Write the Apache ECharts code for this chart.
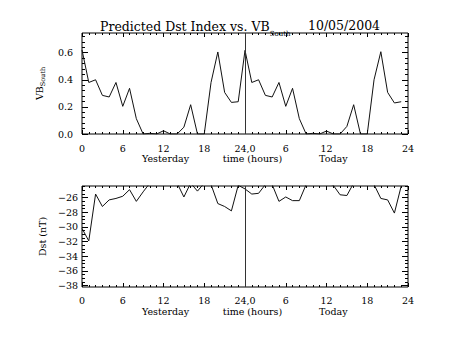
<!DOCTYPE html>
<html>
<head>
<meta charset="utf-8">
<script src="https://cdn.jsdelivr.net/npm/echarts@6/dist/echarts.min.js"></script>
<style>html,body{margin:0;padding:0;background:#fff}#c{width:453px;height:340px}</style>
</head>
<body>
<div id="c"></div>
<script>
// hours since start of "Yesterday"
var hours = [0,1,2,3,4,5,6,7,8,9,10,11,12,13,14,15,16,17,18,19,20,21,22,23,
             24,25,26,27,28,29,30,31,32,33,34,35,36,37,38,39,40,41,42,43,44,45,46,47];
var vbSouth = [0.62,0.38,0.40,0.285,0.273,0.38,0.204,0.337,0.113,0.0,0.005,0.0,0.024,0.0,0.0,0.05,0.216,0.0,0.0,0.38,0.605,0.307,0.233,0.238,
               0.617,0.38,0.40,0.285,0.273,0.38,0.204,0.337,0.113,0.0,0.005,0.0,0.022,0.0,0.0,0.056,0.216,0.0,0.0,0.40,0.607,0.307,0.229,0.238];
var dst = [-30.2,-31.9,-25.5,-27.2,-26.3,-26.1,-25.8,-24.9,-26.5,-25.2,-24.0,-24.0,-24.0,-24.0,-24.0,-25.9,-24.0,-25.1,-24.0,-24.2,-26.8,-27.2,-27.8,-24.3,
           -24.8,-25.5,-25.4,-24.2,-24.2,-26.5,-25.9,-26.4,-26.4,-24.2,-24.0,-24.0,-24.0,-24.3,-25.6,-25.7,-24.0,-24.0,-24.0,-24.2,-26.1,-26.3,-28.1,-24.4];
var xTickLabels = ['0','6','12','18','24,0','6','12','18','24'];
var xTitles = ['Yesterday','time (hours)','Today'];
var vbTicks = [0.0,0.2,0.4,0.6];
var dstTicks = [-38,-36,-34,-32,-30,-28,-26];
var dividerHour = 24;

var FONT = 'DejaVu Serif';
var vbRange = [0, 0.745];
var dstRange = [-38.2, -24.4];

function minorList(lo, hi, step, majors) {
  var out = [];
  var n = Math.round((hi - lo) / step);
  for (var i = 0; i <= n; i++) {
    var v = +(lo + i * step).toFixed(4);
    var isMajor = majors.some(function (m) { return Math.abs(m - v) < 1e-6; });
    if (!isMajor) out.push(v);
  }
  return out;
}
var vbMinor = minorList(0, 0.72, 0.04, vbTicks);
var dstMinor = minorList(-38, -24.5, 0.5, dstTicks);

function pairs(ys) { return hours.map(function (h, i) { return [h, ys[i]]; }); }

function xAxisCfg(grid, pos, labels) {
  return {
    type: 'value', gridIndex: grid, position: pos, min: 0, max: 48, interval: 6,
    axisLine: { show: false, onZero: false },
    axisTick: { show: true, inside: true, length: 4, lineStyle: { color: '#000' } },
    minorTick: { show: true, splitNumber: 6, length: 2, lineStyle: { color: '#000' } },
    splitLine: { show: false }, minorSplitLine: { show: false },
    axisLabel: labels ? {
      show: true, margin: grid === 0 ? 9 : 8, color: '#000', fontFamily: FONT, fontSize: 9.5,
      formatter: function (v) { return xTickLabels[Math.round(v / 6)]; }
    } : { show: false }
  };
}
function xTitleAxis(grid) {
  return {
    type: 'value', gridIndex: grid, position: 'bottom', min: 0, max: 48,
    axisLine: { show: false, onZero: false }, axisTick: { show: false },
    splitLine: { show: false },
    axisLabel: {
      show: true, margin: 19, color: '#000', fontFamily: FONT, fontSize: 9.5,
      customValues: [12.3, 25.1, 37],
      formatter: function (v) { return v < 18 ? xTitles[0] : (v < 30 ? xTitles[1] : xTitles[2]); }
    }
  };
}
function yAxisCfg(grid, pos, range, ticks, len, labelCfg, nameCfg) {
  var a = {
    type: 'value', gridIndex: grid, position: pos, min: range[0], max: range[1],
    axisLine: { show: false, onZero: false },
    axisTick: { show: true, inside: true, length: len, customValues: ticks, lineStyle: { color: '#000' } },
    splitLine: { show: false },
    axisLabel: labelCfg || { show: false }
  };
  if (nameCfg) { for (var k in nameCfg) a[k] = nameCfg[k]; }
  return a;
}

var chart = echarts.init(document.getElementById('c'), null, { renderer: 'svg' });
chart.setOption({
  animation: false,
  backgroundColor: '#fff',
  title: [{
    text: '{a|Predicted Dst Index vs. VB}{s|South}',
    left: 100, top: 15, padding: 0,
    textStyle: { fontWeight: 'normal', rich: {
      a: { fontFamily: FONT, fontSize: 12.5, fontWeight: 'normal', lineHeight: 22, color: '#000' },
      s: { fontFamily: FONT, fontSize: 7, fontWeight: 'normal', lineHeight: 7, verticalAlign: 'bottom', color: '#000' }
    } }
  }, {
    text: '10/05/2004', left: 308, top: 18.5, padding: 0,
    textStyle: { fontFamily: FONT, fontSize: 12.5, fontWeight: 'normal', color: '#000' }
  }],
  grid: [
    { left: 82, top: 33, width: 326, height: 101, show: true, borderColor: '#000', borderWidth: 1, backgroundColor: 'transparent' },
    { left: 82, top: 186, width: 326, height: 101, show: true, borderColor: '#000', borderWidth: 1, backgroundColor: 'transparent' }
  ],
  xAxis: [
    xAxisCfg(0, 'bottom', true), xAxisCfg(0, 'top', false),
    xAxisCfg(1, 'bottom', true), xAxisCfg(1, 'top', false),
    xTitleAxis(0), xTitleAxis(1)
  ],
  yAxis: [
    yAxisCfg(0, 'left', vbRange, vbTicks, 6, {
      show: true, margin: 9, color: '#000', fontFamily: FONT, fontSize: 9.5, customValues: vbTicks,
      formatter: function (v) { return v.toFixed(1); }
    }, {
      name: '{a|VB}{s|South}', nameLocation: 'middle', nameGap: 36, nameRotate: 90,
      nameTextStyle: { rich: {
        a: { fontFamily: FONT, fontSize: 9.5, lineHeight: 14, color: '#000' },
        s: { fontFamily: FONT, fontSize: 6.5, lineHeight: 7, verticalAlign: 'bottom', color: '#000' }
      } }
    }),
    yAxisCfg(0, 'left', vbRange, vbMinor, 3),
    yAxisCfg(0, 'right', vbRange, vbTicks, 6),
    yAxisCfg(0, 'right', vbRange, vbMinor, 3),
    yAxisCfg(1, 'left', dstRange, dstTicks, 6, {
      show: true, margin: 4, color: '#000', fontFamily: FONT, fontSize: 9.5, customValues: dstTicks,
      formatter: function (v) { return '\u2212' + Math.abs(v); }
    }, {
      name: 'Dst (nT)', nameLocation: 'middle', nameGap: 30, nameRotate: 90,
      nameTextStyle: { fontFamily: FONT, fontSize: 9.5, color: '#000' }
    }),
    yAxisCfg(1, 'left', dstRange, dstMinor, 3),
    yAxisCfg(1, 'right', dstRange, dstTicks, 6),
    yAxisCfg(1, 'right', dstRange, dstMinor, 3)
  ],
  series: [{
    type: 'line', xAxisIndex: 0, yAxisIndex: 0, data: pairs(vbSouth),
    symbol: 'none', clip: true, lineStyle: { color: '#111', width: 1 },
    markLine: { silent: true, symbol: ['none', 'none'], label: { show: false },
      lineStyle: { color: '#333', type: 'solid', width: 1 }, data: [{ xAxis: dividerHour }] }
  }, {
    type: 'line', xAxisIndex: 2, yAxisIndex: 4, data: pairs(dst),
    symbol: 'none', clip: true, lineStyle: { color: '#111', width: 1 },
    markLine: { silent: true, symbol: ['none', 'none'], label: { show: false },
      lineStyle: { color: '#333', type: 'solid', width: 1 }, data: [{ xAxis: dividerHour }] }
  }]
});
</script>
</body>
</html>
